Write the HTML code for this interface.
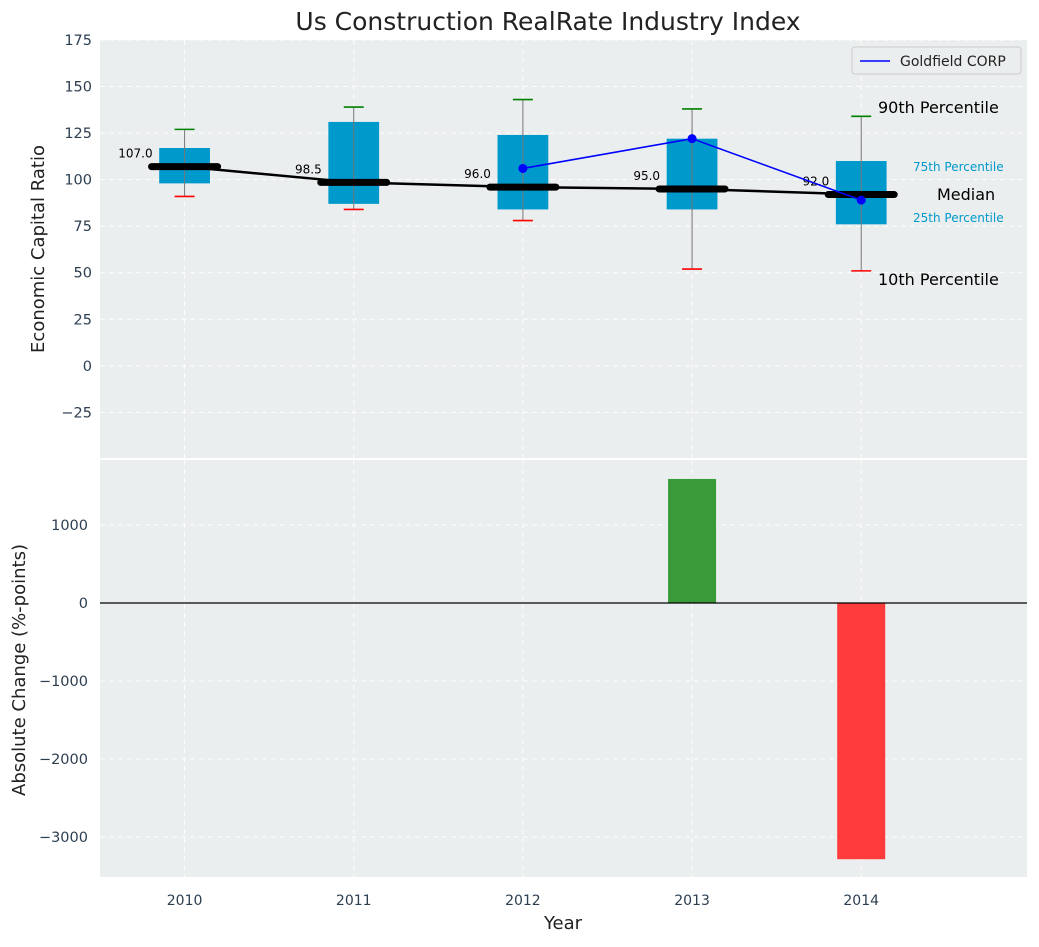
<!DOCTYPE html>
<html><head><meta charset="utf-8"><style>
body{margin:0;background:#fff;font-family:"Liberation Sans","DejaVu Sans",sans-serif}
svg text{font-family:"DejaVu Sans","Liberation Sans",sans-serif}
</style></head><body>
<svg id="chart" width="1039" height="942" xmlns="http://www.w3.org/2000/svg"></svg>
<script>
const years=[2010,2011,2012,2013,2014];
const p10=[91,84,78,52,51];
const q1=[98,87,84,84,76];
const med=[107,98.5,96,95,92];
const q3=[117,131,124,122,110];
const p90=[127,139,143,138,134];
const compYears=[2012,2013,2014];
const compVals=[106,122,89];
const changes=[0,0,0,1590,-3285];
const yTicksTop=[-25,0,25,50,75,100,125,150,175];
const yTicksBot=[-3000,-2000,-1000,0,1000];

const svg=document.getElementById('chart');
const NS='http://www.w3.org/2000/svg';
function mk(tag,attrs,parent,text){const e=document.createElementNS(NS,tag);for(const k in attrs)e.setAttribute(k,attrs[k]);if(text!==undefined)e.textContent=text;(parent||svg).appendChild(e);return e;}
const L=100,R=1027,T1=40,B1=458,T2=460,B2=877;
const X0=2009.5,X1=2014.98;
const x=v=>L+(v-X0)/(X1-X0)*(R-L);
const yt=v=>T1+(175-v)/(175-(-49.5))*(B1-T1);
const yb=v=>T2+(1833-v)/(1833-(-3513))*(B2-T2);

let e;
e=mk('text',{x:548,y:30,'text-anchor':'middle','font-size':25,fill:'#222'},svg,'Us Construction RealRate Industry Index');

e=mk('rect',{x:L,y:T1,width:R-L,height:B1-T1,fill:'#eaeeee'});

e=mk('rect',{x:L,y:T2,width:R-L,height:B2-T2,fill:'#eaeeee'});


const grid={stroke:'#fff','stroke-dasharray':'5,4','stroke-width':1,opacity:0.9};
yTicksTop.forEach(v=>{const y=yt(v);mk('line',Object.assign({x1:L,x2:R,y1:y,y2:y},grid));
 e=mk('text',{x:L-8,y:y+5,'text-anchor':'end','font-size':14.5,fill:'#2c3e50'},svg,v<0?'\u2212'+(-v):v);
 });
yTicksBot.forEach(v=>{const y=yb(v);mk('line',Object.assign({x1:L,x2:R,y1:y,y2:y},grid));
 e=mk('text',{x:L-12,y:y+5,'text-anchor':'end','font-size':14.5,fill:'#2c3e50'},svg,v<0?'\u2212'+(-v):v);
 });
years.forEach(v=>{const xx=x(v);mk('line',Object.assign({x1:xx,x2:xx,y1:T1,y2:B1},grid));mk('line',Object.assign({x1:xx,x2:xx,y1:T2,y2:B2},grid));
 e=mk('text',{x:xx,y:B2+28,'text-anchor':'middle','font-size':14,fill:'#2c3e50'},svg,v);
 });

const bw=(x(1)-x(0))*0.3;
years.forEach((yr,i)=>{const xx=x(yr);
 e=mk('rect',{x:xx-bw/2,y:yt(q3[i]),width:bw,height:yt(q1[i])-yt(q3[i]),fill:'#0099cc'});
 
 e=mk('line',{x1:xx,x2:xx,y1:yt(p10[i]),y2:yt(p90[i]),stroke:'#777','stroke-width':1});
 
 e=mk('line',{x1:xx-10,x2:xx+10,y1:yt(p90[i]),y2:yt(p90[i]),stroke:'green','stroke-width':1.6});
 
 e=mk('line',{x1:xx-10,x2:xx+10,y1:yt(p10[i]),y2:yt(p10[i]),stroke:'red','stroke-width':1.6});
 
});
e=mk('polyline',{points:years.map((yr,i)=>x(yr)+','+yt(med[i])).join(' '),fill:'none',stroke:'#000','stroke-width':2.5});

years.forEach((yr,i)=>{const xx=x(yr);
 e=mk('line',{x1:xx-33,x2:xx+33,y1:yt(med[i]),y2:yt(med[i]),stroke:'#000','stroke-width':7,'stroke-linecap':'round'});
 
 e=mk('text',{x:xx-32,y:yt(med[i])-9,'text-anchor':'end','font-size':12,fill:'#000'},svg,med[i].toFixed(1));
 
});
e=mk('polyline',{points:compYears.map((yr,i)=>x(yr)+','+yt(compVals[i])).join(' '),fill:'none',stroke:'blue','stroke-width':1.6});

compYears.forEach((yr,i)=>{e=mk('circle',{cx:x(yr),cy:yt(compVals[i]),r:4.5,fill:'blue'});
 });

const ann=[['90th Percentile',878,113,16,'#000'],['75th Percentile',913,171,12,'#0099cc'],['Median',937,200,16,'#000'],['25th Percentile',913,222,12,'#0099cc'],['10th Percentile',878,285,16,'#000']];
ann.forEach(a=>{e=mk('text',{x:a[1],y:a[2],'font-size':a[3],fill:a[4]},svg,a[0]);
 });

e=mk('g',{});
mk('rect',{x:852,y:47,width:169,height:27,rx:3,fill:'#eaeeee',stroke:'#ccc'},e);
mk('line',{x1:860,x2:890,y1:61,y2:61,stroke:'blue','stroke-width':1.6},e);
mk('text',{x:900,y:66,'font-size':14,fill:'#222'},e,'Goldfield CORP');

changes.forEach((c,i)=>{if(c===0)return;const xx=x(years[i]);
 e=mk('rect',{x:xx-24,y:Math.min(yb(0),yb(c)),width:48,height:Math.abs(yb(c)-yb(0)),fill:c>0?'#3a9a3a':'#ff3b3b'});
 });
e=mk('line',{x1:L,x2:R,y1:yb(0),y2:yb(0),stroke:'#000','stroke-width':1.2});


e=mk('text',{x:0,y:0,transform:'translate(44,249) rotate(-90)','text-anchor':'middle','font-size':18,fill:'#222'},svg,'Economic Capital Ratio');

e=mk('text',{x:0,y:0,transform:'translate(25,670) rotate(-90)','text-anchor':'middle','font-size':18,fill:'#222'},svg,'Absolute Change (%-points)');

e=mk('text',{x:563,y:929,'text-anchor':'middle','font-size':18,fill:'#222'},svg,'Year');

</script>
</body></html>
